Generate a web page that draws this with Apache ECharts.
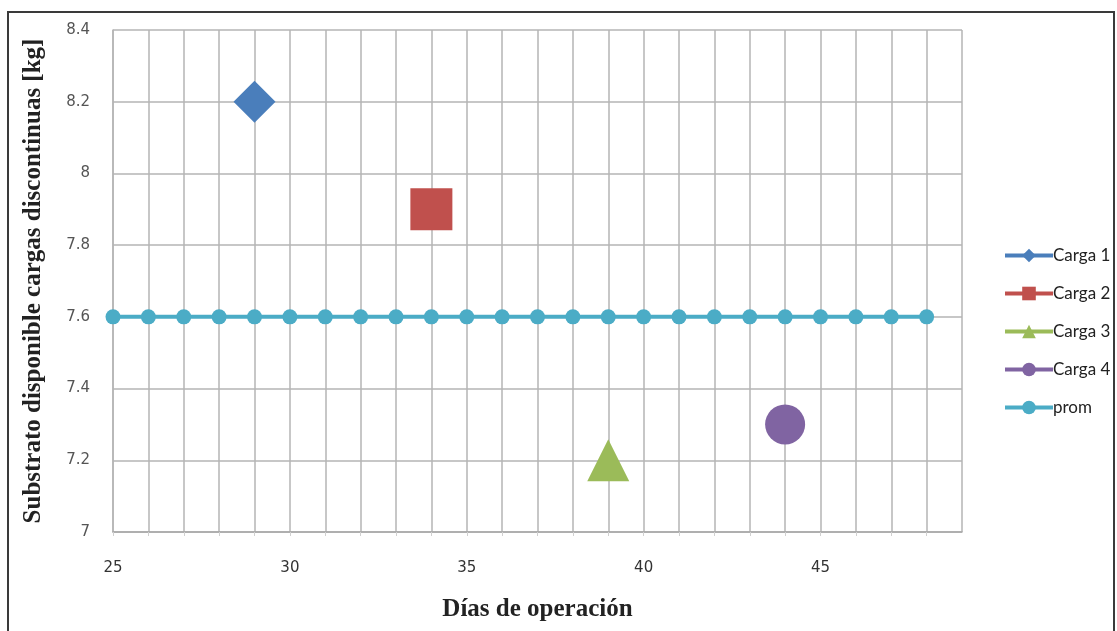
<!DOCTYPE html>
<html>
<head>
<meta charset="utf-8">
<script src="https://cdn.jsdelivr.net/npm/echarts@6/dist/echarts.min.js"></script>
<style>
html,body{margin:0;padding:0;background:#fff;}
#chart{width:1117px;height:631px;}
</style>
</head>
<body>
<div id="chart"></div>
<script>
// datos
var carga1 = [[29, 8.2]];
var carga2 = [[34, 7.9]];
var carga3 = [[39, 7.2]];
var carga4 = [[44, 7.3]];
var promDias = [25, 26, 27, 28, 29, 30, 31, 32, 33, 34, 35, 36, 37, 38, 39, 40, 41, 42, 43, 44, 45, 46, 47, 48];
var promValores = [7.6, 7.6, 7.6, 7.6, 7.6, 7.6, 7.6, 7.6, 7.6, 7.6, 7.6, 7.6, 7.6, 7.6, 7.6, 7.6, 7.6, 7.6, 7.6, 7.6, 7.6, 7.6, 7.6, 7.6];
var xEtiquetas = [25, 30, 35, 40, 45];

var colores = ['#4A7EBB', '#C0504D', '#9BBB59', '#8064A2', '#4BACC6'];

var promData = [];
for (var i = 0; i < promDias.length; i++) {
	promData.push([promDias[i], promValores[i]]);
}

var chart = echarts.init(document.getElementById('chart'));

function punto(nombre, datos, simbolo, tam, color) {
	return {
		name : nombre,
		type : 'line',
		data : datos,
		symbol : simbolo,
		symbolSize : tam,
		color : color,
		lineStyle : { color : color, width : 4 },
		itemStyle : { color : color },
		animation : false
	};
}

var option = {
	animation : false,
	grid : {
		left : 113,
		top : 30,
		right : 155,
		bottom : 99
	},
	graphic : [ {
		type : 'rect',
		shape : { x : 8, y : 12, width : 1106, height : 640 },
		style : { fill : 'none', stroke : '#3a3a3a', lineWidth : 2 },
		silent : true
	} ],
	legend : {
		orient : 'vertical',
		left : 998,
		top : 242,
		padding : 5,
		itemWidth : 48,
		itemHeight : 17,
		itemGap : 21,
		lineStyle : { width : 4 },
		textStyle : {
			fontFamily : 'Lato',
			fontSize : 17,
			color : '#222',
			padding : [0, 0, 0, -5]
		},
		data : ['Carga 1', 'Carga 2', 'Carga 3', 'Carga 4', 'prom']
	},
	xAxis : {
		type : 'value',
		min : 25,
		max : 49,
		interval : 1,
		name : 'Días de operación',
		nameLocation : 'middle',
		nameGap : 65,
		nameTextStyle : {
			fontFamily : 'Liberation Serif',
			fontWeight : 'bold',
			fontSize : 25,
			color : '#222'
		},
		axisLine : { lineStyle : { color : '#a8a8a8', width : 1.5 } },
		axisTick : { show : true, length : 4, lineStyle : { color : '#d0d0d0' } },
		splitLine : { show : true, lineStyle : { color : '#b4b4b4', width : 1.5 } },
		axisLabel : {
			margin : 29,
			fontFamily : 'DejaVu Sans',
			fontSize : 15,
			color : '#333',
			showMaxLabel : false,
			formatter : function(v) {
				return xEtiquetas.indexOf(v) >= 0 ? String(v) : '';
			}
		}
	},
	yAxis : {
		type : 'value',
		min : 7,
		max : 8.4,
		interval : 0.2,
		name : 'Substrato disponible cargas discontinuas [kg]',
		nameLocation : 'middle',
		nameGap : 67,
		nameRotate : 90,
		nameTextStyle : {
			fontFamily : 'Liberation Serif',
			fontWeight : 'bold',
			fontSize : 25,
			color : '#222'
		},
		axisLine : { show : true, lineStyle : { color : '#b4b4b4', width : 1.5 } },
		axisTick : { show : false },
		splitLine : { show : true, lineStyle : { color : '#b4b4b4', width : 1.5 } },
		axisLabel : {
			margin : 23,
			fontFamily : 'DejaVu Sans',
			fontSize : 15,
			color : '#555',
			formatter : function(v) {
				return String(Math.round(v * 10) / 10);
			}
		}
	},
	series : [
		punto('Carga 1', carga1, 'diamond', 42, colores[0]),
		punto('Carga 2', carga2, 'rect', 42, colores[1]),
		punto('Carga 3', carga3, 'triangle', 42, colores[2]),
		punto('Carga 4', carga4, 'circle', 40, colores[3]),
		punto('prom', promData, 'circle', 15, colores[4])
	]
};
chart.setOption(option);
</script>
</body>
</html>
